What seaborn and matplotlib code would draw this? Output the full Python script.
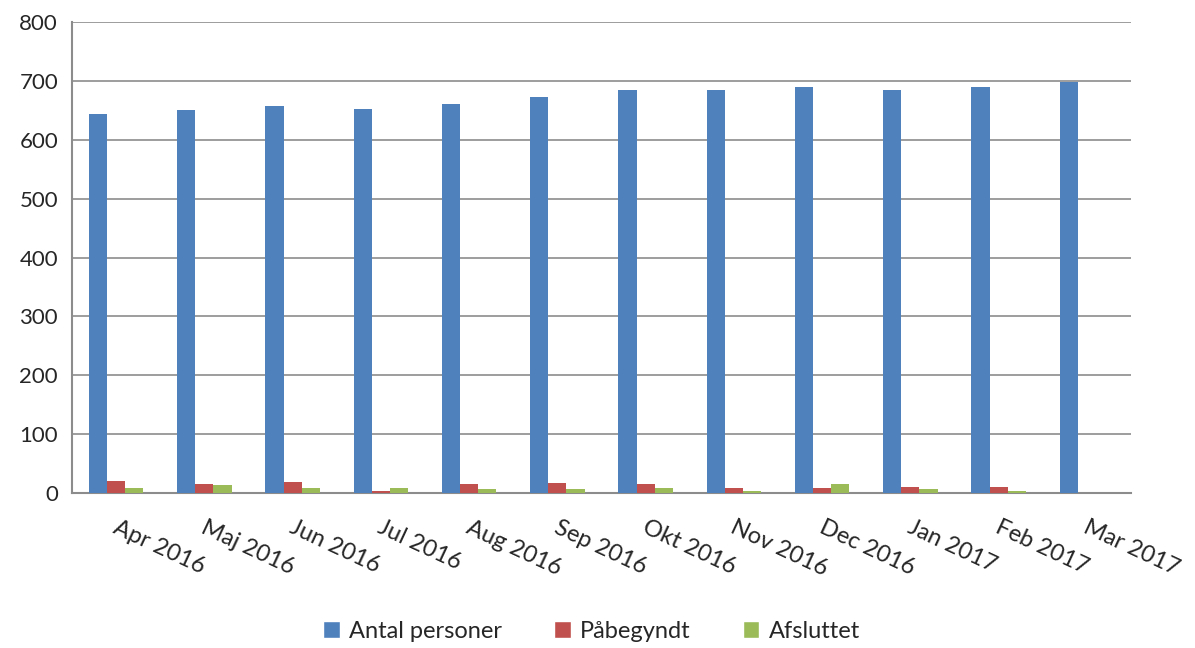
import pandas as pd
import matplotlib.pyplot as plt
import seaborn as sns
from matplotlib.patches import Patch

months = ['Apr 2016', 'Maj 2016', 'Jun 2016', 'Jul 2016', 'Aug 2016', 'Sep 2016',
          'Okt 2016', 'Nov 2016', 'Dec 2016', 'Jan 2017', 'Feb 2017', 'Mar 2017']
antal = [643, 651, 657, 652, 661, 673, 684, 685, 689, 685, 689, 698]
paabegyndt = [21, 15, 19, 4, 16, 17, 16, 8, 8, 11, 10, 0]
afsluttet = [8, 13, 8, 9, 6, 6, 8, 4, 15, 6, 3, 0]
series = ['Antal personer', 'Påbegyndt', 'Afsluttet']
colors = ['#4F81BD', '#C0504D', '#9BBB59']

df = pd.DataFrame({'month': months * 3,
                   'value': antal + paabegyndt + afsluttet,
                   'serie': [s for s in series for _ in months]})

sns.set_style('white')
plt.rcParams['font.family'] = ['Lato', 'DejaVu Sans']

fig = plt.figure(figsize=(11.95, 6.48), dpi=100)
ax = fig.add_axes([72 / 1195, 1 - 493 / 648, (1131 - 72) / 1195, (493 - 22) / 648])

sns.barplot(data=df, x='month', y='value', hue='serie', hue_order=series,
            palette=colors, width=0.62, saturation=1, linewidth=0,
            errorbar=None, ax=ax, legend=False, zorder=3)

ax.set_xlim(-0.5, len(months) - 0.5)
ax.set_ylim(0, 800)
ax.set_yticks(range(0, 801, 100))
ax.yaxis.grid(True, color='#8c8c8c', linewidth=1.2, zorder=0)
ax.set_axisbelow(True)
ax.set_xlabel('')
ax.set_ylabel('')

for side in ['top', 'right']:
    ax.spines[side].set_visible(False)
for side in ['left', 'bottom']:
    ax.spines[side].set_color('#8c8c8c')
    ax.spines[side].set_linewidth(1.5)

# category ticks at boundaries
ax.set_xticks([i - 0.5 for i in range(len(months) + 1)])
ax.set_xticklabels([''] * (len(months) + 1))
ax.tick_params(axis='x', direction='out', length=7, color='#8c8c8c', width=1.5)
ax.tick_params(axis='y', direction='out', length=6, color='#8c8c8c', width=1.5,
               labelsize=16, pad=4)

for i, m in enumerate(months):
    ax.text(i + 0.03, -0.05, m, transform=ax.get_xaxis_transform(), rotation=-25,
            rotation_mode='anchor', ha='left', va='top', fontsize=17)

handles = [Patch(facecolor=c, label=s) for c, s in zip(colors, series)]
fig.legend(handles=handles, loc='center', ncol=3, frameon=False, fontsize=17,
           bbox_to_anchor=(0.495, 0.026), handlelength=0.7, handleheight=0.7,
           columnspacing=2.2, handletextpad=0.4)

plt.savefig('out.png', dpi=100)
